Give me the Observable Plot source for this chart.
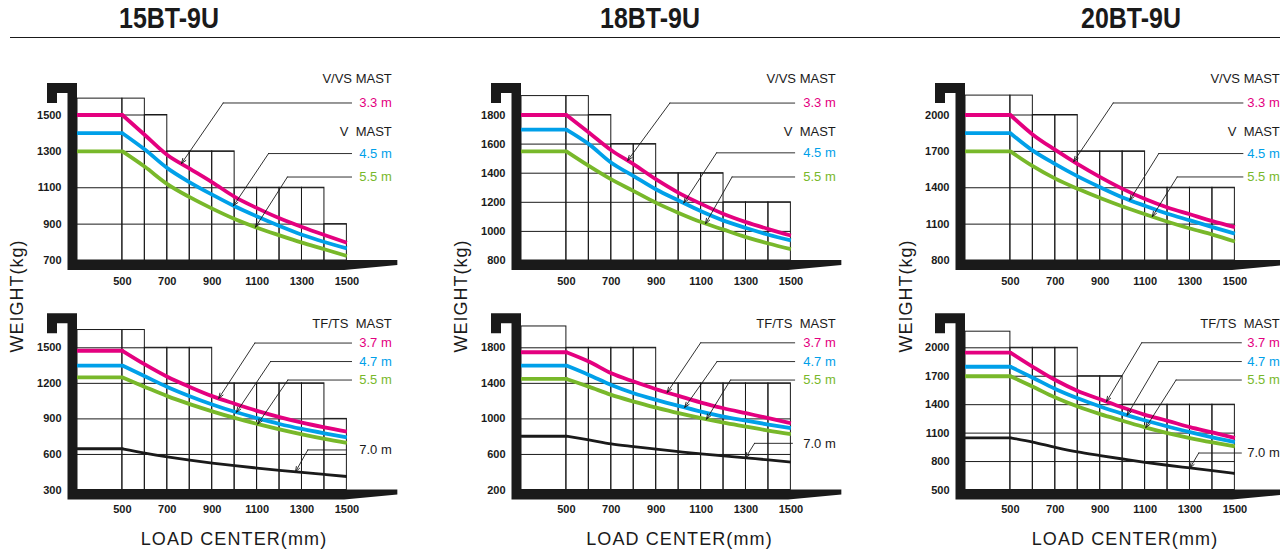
<!DOCTYPE html>
<html>
<head>
<meta charset="utf-8">
<script src="https://cdn.jsdelivr.net/npm/d3@7"></script>
<script src="https://cdn.jsdelivr.net/npm/@observablehq/plot@0.6"></script>
<style>
  html, body { margin: 0; padding: 0; background: #fff; }
  body { width: 1280px; height: 555px; overflow: hidden; position: relative; font-family: "Liberation Sans", Arial, sans-serif; color: #1a1a1a; }
  .title { position: absolute; top: 2px; line-height: 32px; font-family: "Liberation Sans", Arial, sans-serif; font-weight: bold; font-size: 29px; transform: translateX(-50%) scaleX(0.86); white-space: nowrap; color: #1a1a1a; }
  .hrule { position: absolute; top: 37px; left: 10px; width: 1270px; height: 1.3px; background: #1a1a1a; }
  .ylab { position: absolute; font-size: 18px; letter-spacing: 1px; white-space: nowrap; transform: translate(-50%, -50%) rotate(-90deg); color: #1a1a1a; }
  .xlab { position: absolute; font-size: 18px; letter-spacing: 1.1px; white-space: nowrap; transform: translateX(-50%); color: #1a1a1a; }
  .panel { position: absolute; }
</style>
</head>
<body>
<div id="root"></div>
<script>
// ======================= DATA =======================
const models = ["15BT-9U", "18BT-9U", "20BT-9U"];
const loadCenter = [300, 500, 600, 700, 800, 900, 1000, 1100, 1200, 1300, 1400, 1500];
const xTickValues = [500, 700, 900, 1100, 1300, 1500];
const gridEdges = [300, 500, 600, 700, 800, 900, 1000, 1100, 1200, 1300, 1400, 1500];
const yLabel = "WEIGHT(kg)";
const xLabel = "LOAD CENTER(mm)";
const headersV = ["V/VS MAST", "V\u00a0 MAST"];
const headersTF = ["TF/TS\u00a0 MAST"];
const mastsV = ["3.3 m", "4.5 m", "5.5 m"];
const mastsTF = ["3.7 m", "4.7 m", "5.5 m", "7.0 m"];

// 15BT-9U  V/VS mast
const yTicks15V = [700, 900, 1100, 1300, 1500];
const gridTop15V = [1590, 1590, 1500, 1300, 1300, 1300, 1100, 1100, 1100, 1100, 900];
const cap15V_33 = [1500, 1500, 1390, 1280, 1205, 1130, 1050, 988, 932, 884, 840, 798];
const cap15V_45 = [1400, 1400, 1310, 1208, 1130, 1062, 998, 942, 890, 842, 802, 767];
const cap15V_55 = [1300, 1300, 1215, 1120, 1048, 985, 928, 880, 838, 798, 762, 725];
// 15BT-9U  TF/TS mast
const yTicks15TF = [300, 600, 900, 1200, 1500];
const gridTop15TF = [1650, 1650, 1500, 1500, 1500, 1200, 1200, 1200, 1200, 1200, 900];
const cap15TF_37 = [1475, 1475, 1360, 1256, 1170, 1092, 1028, 968, 915, 868, 828, 792];
const cap15TF_47 = [1350, 1350, 1260, 1170, 1092, 1022, 960, 906, 857, 815, 778, 744];
const cap15TF_55 = [1250, 1250, 1170, 1092, 1025, 964, 908, 858, 812, 770, 732, 698];
const cap15TF_70 = [648, 648, 612, 580, 552, 527, 505, 485, 466, 448, 431, 414];

// 18BT-9U  V/VS mast
const yTicks18V = [800, 1000, 1200, 1400, 1600, 1800];
const gridTop18V = [1930, 1930, 1800, 1600, 1600, 1400, 1400, 1400, 1200, 1200, 1200];
const cap18V_33 = [1800, 1800, 1680, 1558, 1461, 1357, 1265, 1189, 1120, 1064, 1016, 972];
const cap18V_45 = [1700, 1700, 1600, 1472, 1380, 1288, 1212, 1138, 1074, 1023, 977, 938];
const cap18V_55 = [1550, 1550, 1450, 1357, 1277, 1196, 1127, 1064, 1012, 961, 917, 878];
// 18BT-9U  TF/TS mast
const yTicks18TF = [200, 600, 1000, 1400, 1800];
const gridTop18TF = [2040, 1800, 1800, 1800, 1800, 1400, 1400, 1400, 1400, 1400, 1400];
const cap18TF_37 = [1750, 1750, 1645, 1514, 1420, 1334, 1259, 1184, 1120, 1064, 1008, 951];
const cap18TF_47 = [1600, 1600, 1495, 1382, 1289, 1214, 1146, 1082, 1026, 981, 936, 895];
const cap18TF_55 = [1450, 1450, 1363, 1270, 1195, 1127, 1064, 1008, 958, 913, 868, 828];
const cap18TF_70 = [805, 805, 764, 719, 688, 659, 632, 606, 584, 561, 539, 513];

// 20BT-9U  V/VS mast
const yTicks20V = [800, 1100, 1400, 1700, 2000];
const gridTop20V = [2160, 2160, 2000, 2000, 1700, 1700, 1700, 1400, 1400, 1400, 1400];
const cap20V_33 = [2000, 2000, 1838, 1712, 1595, 1488, 1391, 1307, 1237, 1181, 1125, 1075];
const cap20V_45 = [1850, 1850, 1706, 1595, 1494, 1404, 1320, 1251, 1186, 1131, 1075, 1022];
const cap20V_55 = [1700, 1700, 1578, 1475, 1391, 1315, 1245, 1181, 1120, 1064, 1014, 957];
// 20BT-9U  TF/TS mast
const yTicks20TF = [500, 800, 1100, 1400, 1700, 2000];
const gridTop20TF = [2170, 2000, 2000, 2000, 1700, 1700, 1400, 1400, 1400, 1400, 1400];
const cap20TF_37 = [1950, 1950, 1800, 1660, 1545, 1457, 1370, 1293, 1230, 1163, 1107, 1048];
const cap20TF_47 = [1800, 1800, 1684, 1566, 1467, 1380, 1303, 1233, 1170, 1110, 1055, 1006];
const cap20TF_55 = [1700, 1700, 1590, 1475, 1380, 1300, 1230, 1160, 1100, 1048, 1002, 960];
const cap20TF_70 = [1050, 1050, 1006, 950, 901, 863, 827, 792, 761, 733, 705, 674];

// ================= ANNOTATION LAYOUT (data units) =================
const LABEL_X = 1700;       // mm, right end of the legend labels
const FORK_TIP = 1727;      // mm
const FORK_TAPER = 1490;    // mm
const annot = {
  "15V":  {headerY: [1700, 1405], labelY: [1566, 1288, 1159], elbowX: [949, 1151, 1235], tipX: [763, 995, 1093], endX: [1525, 1525, 1525]},
  "15TF": {headerY: [1700], labelY: [1540, 1384, 1228, 638], elbowX: [1090, 1160, 1237, 1326], tipX: [929, 1008, 1103, 1271], endX: [1525, 1525, 1525, 1501]},
  "18V":  {headerY: [2051, 1682], labelY: [1882, 1540, 1374], elbowX: [961, 1169, 1238], tipX: [773, 1023, 1120], endX: [1521, 1521, 1521]},
  "18TF": {headerY: [2070], labelY: [1856, 1645, 1437, 725], elbowX: [1098, 1171, 1231, 1338], tipX: [949, 1027, 1124, 1298], endX: [1521, 1521, 1521, 1511]},
  "20V":  {headerY: [2301, 1859], labelY: [2099, 1682, 1489], elbowX: [958, 1161, 1243], tipX: [782, 1032, 1132], endX: [1540, 1540, 1540]},
  "20TF": {headerY: [2253], labelY: [2053, 1855, 1660, 890], elbowX: [1085, 1161, 1238, 1339], tipX: [928, 1020, 1103, 1300], endX: [1533, 1533, 1533, 1533]}
};

// ================= STYLE =================
const MAGENTA = "#e4007f", CYAN = "#00a0e9", GREEN = "#78b82a", BLACK = "#1a1a1a";
const colorsV = [MAGENTA, CYAN, GREEN];
const colorsTF = [MAGENTA, CYAN, GREEN, BLACK];
const COL_OFFSET = 444;
const ROWS = [
  {top: 40, height: 260, marginTop: 74.5, marginBottom: 40, xPad: 17, hookAbove: 31.5},
  {top: 300, height: 255, marginTop: 47.3, marginBottom: 65.5, xPad: 15.5, hookAbove: 34}
];

const panels = [
  {col: 0, row: 0, key: "15V", ticks: yTicks15V, tops: gridTop15V, names: mastsV, colors: colorsV, headers: headersV, values: [cap15V_33, cap15V_45, cap15V_55]},
  {col: 0, row: 1, key: "15TF", ticks: yTicks15TF, tops: gridTop15TF, names: mastsTF, colors: colorsTF, headers: headersTF, values: [cap15TF_37, cap15TF_47, cap15TF_55, cap15TF_70]},
  {col: 1, row: 0, key: "18V", ticks: yTicks18V, tops: gridTop18V, names: mastsV, colors: colorsV, headers: headersV, values: [cap18V_33, cap18V_45, cap18V_55]},
  {col: 1, row: 1, key: "18TF", ticks: yTicks18TF, tops: gridTop18TF, names: mastsTF, colors: colorsTF, headers: headersTF, values: [cap18TF_37, cap18TF_47, cap18TF_55, cap18TF_70]},
  {col: 2, row: 0, key: "20V", ticks: yTicks20V, tops: gridTop20V, names: mastsV, colors: colorsV, headers: headersV, values: [cap20V_33, cap20V_45, cap20V_55]},
  {col: 2, row: 1, key: "20TF", ticks: yTicks20TF, tops: gridTop20TF, names: mastsTF, colors: colorsTF, headers: headersTF, values: [cap20TF_37, cap20TF_47, cap20TF_55, cap20TF_70]}
];

function valueAt(values, x) {
  for (let i = 0; i < loadCenter.length - 1; i++) {
    const a = loadCenter[i], b = loadCenter[i + 1];
    if (x >= a && x <= b) return values[i] + (values[i + 1] - values[i]) * (x - a) / (b - a);
  }
  return values[values.length - 1];
}

function forkMark(yMin, yMax, hookAbove) {
  return (index, scales) => {
    const x0 = scales.x(300), yb = scales.y(yMin), yt = scales.y(yMax) - hookAbove;
    const xs = scales.x(FORK_TAPER), xt = scales.x(FORK_TIP);
    const pts = [[x0 - 30, yt], [x0, yt], [x0, yb], [xt, yb], [xt, yb + 5], [xs, yb + 10],
                 [x0 - 9.5, yb + 10], [x0 - 9.5, yt + 10], [x0 - 20, yt + 10], [x0 - 20, yt + 20], [x0 - 30, yt + 20]];
    const path = document.createElementNS("http://www.w3.org/2000/svg", "path");
    path.setAttribute("d", "M" + pts.map(p => p.join(",")).join("L") + "Z");
    path.setAttribute("fill", BLACK);
    return path;
  };
}

function drawPanel(p) {
  const g = ROWS[p.row];
  const a = annot[p.key];
  const yMin = p.ticks[0], yMax = p.ticks[p.ticks.length - 1];
  const cells = p.tops.map((t, i) => ({x1: gridEdges[i], x2: gridEdges[i + 1], y1: yMin, y2: t}));
  const hLines = p.ticks.slice(1).map(t => ({y: t, x1: 300, x2: d3.max(cells.filter(c => c.y2 >= t), c => c.x2)}));
  const marks = [
    Plot.rect(cells, {x1: "x1", x2: "x2", y1: "y1", y2: "y2", fill: "none", stroke: BLACK, strokeWidth: 1}),
    Plot.ruleY(hLines, {y: "y", x1: "x1", x2: "x2", stroke: BLACK, strokeWidth: 1})
  ];
  p.values.forEach((vals, i) => {
    const pts = loadCenter.map((x, j) => ({x, w: vals[j]}));
    const sw = p.colors[i] === BLACK ? 2.8 : 3.8;
    marks.push(Plot.line(pts.filter(d => d.x <= 500), {x: "x", y: "w", stroke: p.colors[i], strokeWidth: sw, strokeLinecap: "round"}));
    marks.push(Plot.line(pts.filter(d => d.x >= 500), {x: "x", y: "w", stroke: p.colors[i], strokeWidth: sw, curve: "monotone-x", strokeLinecap: "butt", strokeLinejoin: "round"}));
  });
  const ann = p.names.map((name, i) => ({
    name, color: p.colors[i], labelY: a.labelY[i], elbowX: a.elbowX[i], endX: a.endX[i],
    tipX: a.tipX[i], tipY: valueAt(p.values[i], a.tipX[i])
  }));
  marks.push(Plot.ruleY(ann, {y: "labelY", x1: "elbowX", x2: "endX", stroke: BLACK, strokeWidth: 0.9}));
  marks.push(Plot.arrow(ann, {x1: "elbowX", y1: "labelY", x2: "tipX", y2: "tipY", stroke: BLACK, strokeWidth: 0.9, headLength: 9, headAngle: 40}));
  ann.forEach(d => {
    marks.push(Plot.text([d], {x: LABEL_X, y: "labelY", text: "name", textAnchor: "end", fill: d.color, fontSize: 13, fontWeight: "normal"}));
  });
  const hdr = p.headers.map((t, i) => ({t, y: a.headerY[i]}));
  marks.push(Plot.text(hdr, {x: LABEL_X, y: "y", text: "t", textAnchor: "end", fill: BLACK, fontSize: 13, fontWeight: "normal"}));
  marks.push(forkMark(yMin, yMax, g.hookAbove));

  const svg = Plot.plot({
    width: 445, height: g.height,
    marginLeft: 77, marginRight: 42.5, marginTop: g.marginTop, marginBottom: g.marginBottom,
    x: {domain: [300, 1750], ticks: xTickValues, tickSize: 0, tickPadding: g.xPad, tickFormat: d => String(d), label: null},
    y: {domain: [yMin, yMax], ticks: p.ticks, tickSize: 0, tickPadding: 16, tickFormat: d => String(d), label: null},
    style: {background: "transparent", overflow: "visible", maxWidth: "none", fontFamily: "'Liberation Sans', Arial, sans-serif", fontSize: "11px", fontWeight: "bold", color: BLACK},
    marks
  });
  const wrap = document.createElement("div");
  wrap.className = "panel";
  wrap.style.left = (p.col * COL_OFFSET) + "px";
  wrap.style.top = g.top + "px";
  wrap.appendChild(svg);
  return wrap;
}

const root = document.getElementById("root");
const titleCenters = [168.5, 650, 1131];
models.forEach((m, i) => {
  const t = document.createElement("div");
  t.className = "title";
  t.textContent = m;
  t.style.left = titleCenters[i] + "px";
  root.appendChild(t);
});
const hr = document.createElement("div");
hr.className = "hrule";
root.appendChild(hr);

panels.forEach(p => root.appendChild(drawPanel(p)));

for (let c = 0; c < 3; c++) {
  const yl = document.createElement("div");
  yl.className = "ylab";
  yl.textContent = yLabel;
  yl.style.left = (16.5 + c * 444.5) + "px";
  yl.style.top = "295.5px";
  root.appendChild(yl);
  const xl = document.createElement("div");
  xl.className = "xlab";
  xl.textContent = xLabel;
  xl.style.left = (234 + c * 445.5) + "px";
  xl.style.top = "529px";
  root.appendChild(xl);
}
</script>
</body>
</html>
